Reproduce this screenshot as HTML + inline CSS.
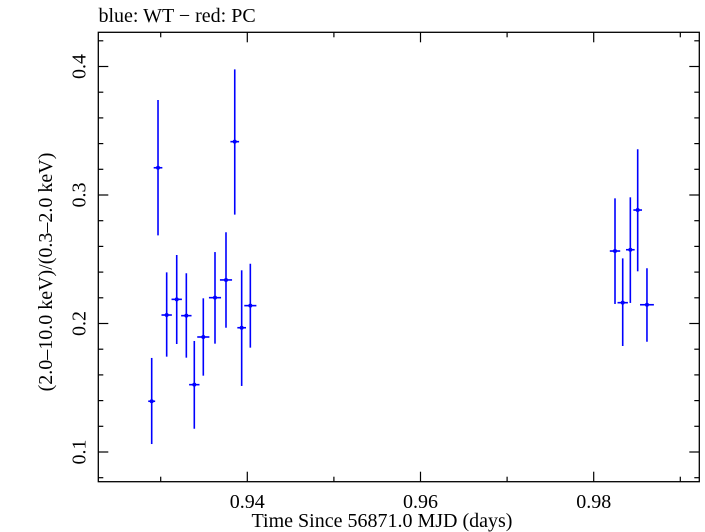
<!DOCTYPE html>
<html><head><meta charset="utf-8"><style>
html,body{margin:0;padding:0;background:#fff;}
svg{display:block;font-family:"Liberation Serif",serif;}
</style></head><body>
<svg id="chart" width="705" height="532" viewBox="0 0 705 532">
<text x="98.5" y="22" font-size="20">blue: WT − red: PC</text>
<rect x="98.3" y="32.3" width="601" height="449.4" fill="none" stroke="#000" stroke-width="1.3"/>
<g id="ticks"></g>
<g id="marks"></g>
<text x="382" y="527" font-size="20" text-anchor="middle">Time Since 56871.0 MJD (days)</text>
<text transform="translate(52,272) rotate(-90)" font-size="20" text-anchor="middle">(2.0–10.0 keV)/(0.3–2.0 keV)</text>
</svg>
<script>
const times=[0.92896,0.92969,0.93069,0.93185,0.93296,0.93388,0.93492,0.93627,0.93754,0.93855,0.93935,0.94035,0.98246,0.98335,0.98423,0.98508,0.98615];
const timeErr=[0.0004,0.0005,0.0006,0.0006,0.0006,0.0006,0.0007,0.0007,0.0007,0.0005,0.0005,0.0007,0.0006,0.0006,0.0005,0.0005,0.0008];
const ratios=[0.1395,0.3212,0.2066,0.2188,0.2061,0.1524,0.1895,0.2201,0.2339,0.3415,0.1967,0.2139,0.2564,0.2162,0.2574,0.2883,0.2146];
const ratioHi=[0.1732,0.3739,0.2398,0.2533,0.2391,0.1864,0.2196,0.2556,0.2710,0.3978,0.2414,0.2465,0.2974,0.2507,0.2982,0.3356,0.2430];
const ratioLo=[0.1062,0.2686,0.1742,0.1840,0.1734,0.1181,0.1594,0.1843,0.1967,0.2847,0.1514,0.1812,0.2152,0.1825,0.2160,0.2406,0.1858];
const xTickLabels=["0.94","0.96","0.98"];
const yTickLabels=["0.1","0.2","0.3","0.4"];
const NS="http://www.w3.org/2000/svg";
const L=98.3,R=699.3,T=32.3,B=481.7;
function xs(t){return 247.3+(t-0.94)*8660;}
function ys(v){return 452-(v-0.1)*1285;}
const tg=document.getElementById('ticks');
const mg=document.getElementById('marks');
function line(g,x1,y1,x2,y2,c,w){const l=document.createElementNS(NS,'line');l.setAttribute('x1',x1);l.setAttribute('y1',y1);l.setAttribute('x2',x2);l.setAttribute('y2',y2);l.setAttribute('stroke',c);l.setAttribute('stroke-width',w);g.appendChild(l);return l;}
for(let k=92;k<=99;k++){const t=k/100;const x=xs(t);if(x<L||x>R)continue;const major=(k%2===0);const len=major?10:5;
const a=line(tg,x,B,x,B-len,'#000',1.2);


const b=line(tg,x,T,x,T+len,'#000',1.2);

}
xTickLabels.forEach(s=>{const v=parseFloat(s);const tx=document.createElementNS(NS,'text');tx.setAttribute('x',xs(v));tx.setAttribute('y',508);tx.setAttribute('font-size','20');tx.setAttribute('text-anchor','middle');tx.textContent=s;


tg.appendChild(tx);});
for(let k=4;k<=21;k++){const v=k*0.02;const y=ys(v);if(y<T||y>B)continue;const major=(k%5===0);const len=major?10:5;
const a=line(tg,L,y,L+len,y,'#000',1.2);


const b=line(tg,R,y,R-len,y,'#000',1.2);

}
yTickLabels.forEach(s=>{const v=parseFloat(s);const tx=document.createElementNS(NS,'text');tx.setAttribute('transform','translate(85.5,'+ys(v)+') rotate(-90)');tx.setAttribute('font-size','20');tx.setAttribute('text-anchor','middle');tx.textContent=s;


tg.appendChild(tx);});
for(let i=0;i<times.length;i++){
const g=document.createElementNS(NS,'g');


const x=xs(times[i]),y=ys(ratios[i]);
line(g,x,ys(ratioHi[i]),x,ys(ratioLo[i]),'#0000ff',1.6);
line(g,xs(times[i]-timeErr[i]),y,xs(times[i]+timeErr[i]),y,'#0000ff',1.6);
const c=document.createElementNS(NS,'circle');c.setAttribute('cx',x);c.setAttribute('cy',y);c.setAttribute('r',2);c.setAttribute('fill','#0000ff');g.appendChild(c);
mg.appendChild(g);}
</script>
</body></html>
